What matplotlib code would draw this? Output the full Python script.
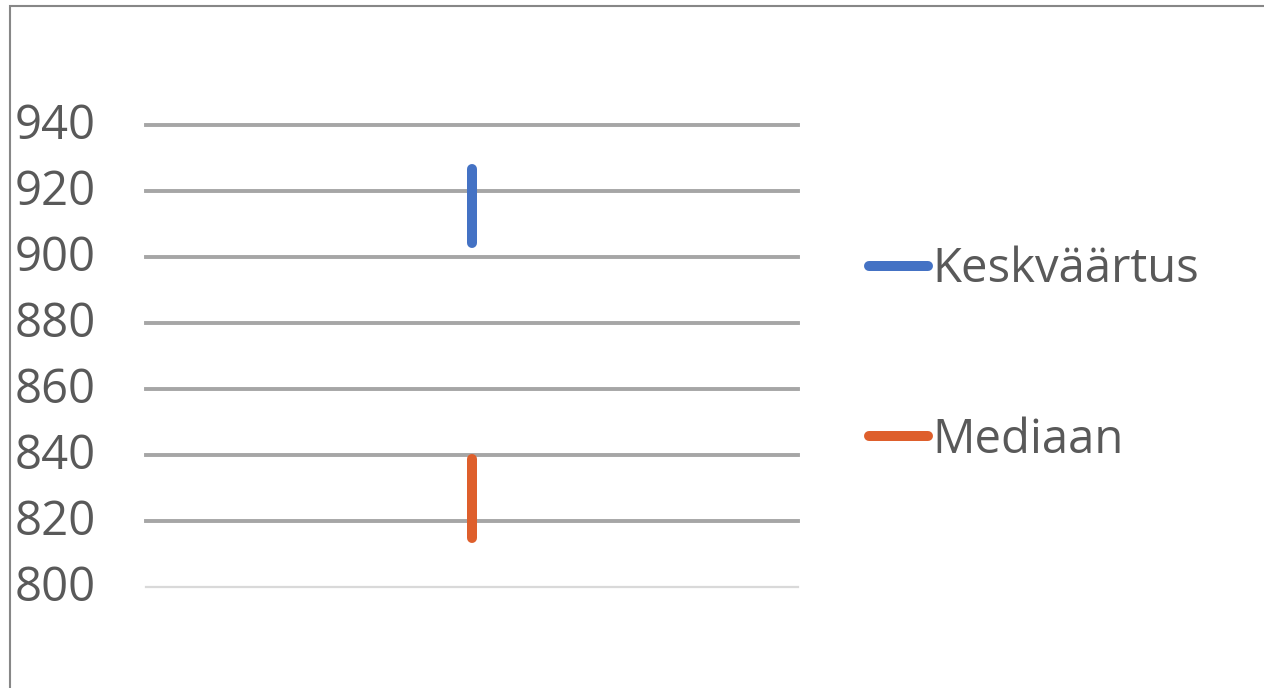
import matplotlib.pyplot as plt
from matplotlib.patches import Rectangle
from matplotlib.transforms import ScaledTranslation

# vahemikud: keskväärtus ja mediaan
series = ["Keskväärtus", "Mediaan"]
low = [904.2, 814.8]
high = [926.4, 838.8]
colors = ["#4472C4", "#DE5F2C"]
yticks = [800, 820, 840, 860, 880, 900, 920, 940]

plt.rcParams['font.family'] = ['Open Sans', 'DejaVu Sans']

fig = plt.figure(figsize=(12.64, 6.88), dpi=100)
ax = fig.add_axes([0.1155, 0.1468, 0.5158, 0.6722])

for name, lo, hi, c in zip(series, low, high, colors):
    ax.plot([0, 0], [lo, hi], color=c, lw=7.2, solid_capstyle='round', label=name, zorder=3)

ax.set_xlim(-0.5, 0.5)
ax.set_ylim(yticks[0], yticks[-1])
ax.set_yticks(yticks)
ax.set_xticks([])
for t in yticks:
    if t == yticks[0]:
        ax.axhline(t, color='#D9D9D9', lw=1.6, zorder=1, clip_on=False)
    else:
        ax.axhline(t, color='#A6A6A6', lw=2.8, zorder=1, clip_on=False)
for s in ax.spines.values():
    s.set_visible(False)
ax.tick_params(axis='y', length=0, pad=36, labelsize=34, labelcolor='#595959')
# sildid veidi ülespoole
shift = ScaledTranslation(0, 4 / 100, fig.dpi_scale_trans)
for tick in ax.yaxis.get_major_ticks():
    tick.label1.set_transform(tick.label1.get_transform() + shift)

leg = fig.legend(loc='upper left', bbox_to_anchor=(0.669, 0.677), frameon=False,
                 fontsize=34, handlelength=1.25, handletextpad=0.08, labelspacing=2.6,
                 borderpad=0)
for txt in leg.get_texts():
    txt.set_color('#595959')

# raam ümber diagrammi
fig.add_artist(Rectangle((10 / 1264, -0.05), 1.1, 1 - 6 / 688 + 0.05, transform=fig.transFigure,
                         fill=False, edgecolor='#878787', lw=1.5))

fig.savefig('out.png', dpi=100)
